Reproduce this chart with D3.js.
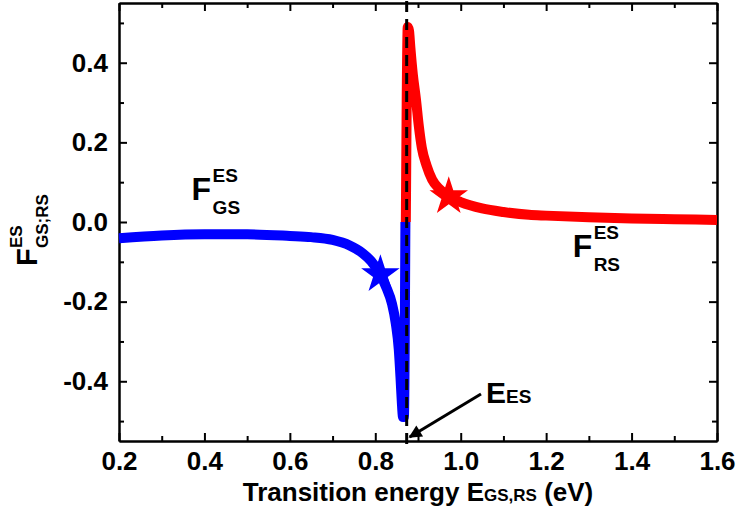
<!DOCTYPE html>
<html>
<head>
<meta charset="utf-8">
<script src="https://cdn.jsdelivr.net/npm/d3@7"></script>
<style>
  body { margin: 0; background: #fff; }
  svg { display: block; }
  svg text { font-family: "Liberation Sans", Arial, sans-serif; font-weight: bold; }
</style>
</head>
<body>
<svg id="chart" width="738" height="521"></svg>
<script>
// F_GS^ES (energy in eV, value)
const gsEnergy = [0.2, 0.3, 0.4, 0.5, 0.6, 0.65, 0.7, 0.74, 0.77, 0.79, 0.812, 0.826, 0.839, 0.848, 0.855, 0.859, 0.862, 0.865, 0.867, 0.869, 0.8705];
const gsValue = [-0.041, -0.034, -0.031, -0.031, -0.035, -0.038, -0.045, -0.059, -0.078, -0.098, -0.132, -0.165, -0.205, -0.255, -0.32, -0.39, -0.45, -0.49, -0.49, -0.30, 0.0];
// F_RS^ES
const rsEnergy = [0.8715, 0.8735, 0.876, 0.879, 0.882, 0.888, 0.895, 0.902, 0.909, 0.92, 0.933, 0.95, 0.972, 1.0, 1.05, 1.1, 1.16, 1.2, 1.3, 1.4, 1.5, 1.6];
const rsValue = [0.0, 0.30, 0.49, 0.48, 0.44, 0.37, 0.31, 0.24, 0.186, 0.142, 0.107, 0.083, 0.064, 0.05, 0.034, 0.025, 0.018, 0.016, 0.012, 0.009, 0.007, 0.005];
// star markers
const starEnergy = [0.812, 0.972];
const starValue = [-0.132, 0.064];
const starColor = ["#0000ff", "#ff0000"];
// E_ES resonance
const eES = 0.8735;
const xTicks = [0.2, 0.4, 0.6, 0.8, 1.0, 1.2, 1.4, 1.6];
const yTicks = [-0.4, -0.2, 0.0, 0.2, 0.4];

const svg = d3.select("#chart");
const x = d3.scaleLinear().domain([0.2, 1.6]).range([119, 717]);
const y = d3.scaleLinear().domain([-0.55, 0.55]).range([441, 3]);
const fmt = d => d.toFixed(1);
const xMinor = d3.range(0.3, 1.6, 0.2);
const yMinor = [-0.5, -0.3, -0.1, 0.1, 0.3, 0.5];

// axes, ticks inward
function styleAxis(g) {
  g.attr("font-family", null).attr("font-size", null);
  g.select(".domain").attr("stroke", "#000").attr("stroke-width", 2);
  g.selectAll(".tick line").attr("stroke", "#000").attr("stroke-width", 2);
  g.selectAll(".tick text").attr("fill", "#000").style("font-size", "26px");
}
function addAxis(axis, tx, ty) {
  svg.append("g").attr("transform", `translate(${tx},${ty})`).call(axis).call(styleAxis);
}
addAxis(d3.axisBottom(x).tickValues(xTicks).tickFormat(fmt).tickSize(-8).tickPadding(11).tickSizeOuter(0), 0, 441);
addAxis(d3.axisBottom(x).tickValues(xMinor).tickFormat("").tickSize(-5).tickSizeOuter(0), 0, 441);
addAxis(d3.axisTop(x).tickValues(xTicks).tickFormat("").tickSize(-8).tickSizeOuter(0), 0, 3);
addAxis(d3.axisTop(x).tickValues(xMinor).tickFormat("").tickSize(-5).tickSizeOuter(0), 0, 3);
addAxis(d3.axisLeft(y).tickValues(yTicks).tickFormat(fmt).tickSize(-8).tickPadding(11).tickSizeOuter(0), 119, 0);
addAxis(d3.axisLeft(y).tickValues(yMinor).tickFormat("").tickSize(-5).tickSizeOuter(0), 119, 0);
addAxis(d3.axisRight(y).tickValues(yTicks).tickFormat("").tickSize(-8).tickSizeOuter(0), 717, 0);
addAxis(d3.axisRight(y).tickValues(yMinor).tickFormat("").tickSize(-5).tickSizeOuter(0), 717, 0);

// curves
const line = d3.line().x(d => x(d[0])).y(d => y(d[1])).curve(d3.curveMonotoneX);
const gsData = d3.zip(gsEnergy, gsValue);
const rsData = d3.zip(rsEnergy, rsValue);
svg.append("path").datum(gsData)
  .attr("d", line)
  .attr("fill", "none").attr("stroke", "#0000ff").attr("stroke-width", 10)
  .attr("stroke-linejoin", "round");
svg.append("path").datum(rsData)
  .attr("d", line)
  .attr("fill", "none").attr("stroke", "#ff0000").attr("stroke-width", 10)
  .attr("stroke-linejoin", "round");

// dashed resonance line
svg.append("line")
  .attr("x1", x(eES)).attr("x2", x(eES))
  .attr("y1", y(0.55) - 2).attr("y2", y(-0.55) + 5)
  .attr("stroke", "#000").attr("stroke-width", 3)
  .attr("stroke-dasharray", "11,7");

// stars
svg.selectAll(".star").data(d3.range(starEnergy.length)).join("path")
  .attr("class", "star")
  .attr("transform", i => `translate(${x(starEnergy[i])},${y(starValue[i])})`)
  .attr("d", d3.symbol(d3.symbolStar, 460))
  .attr("fill", i => starColor[i]);

// curve labels
function fLabel(px, py, sup, sub) {
  svg.append("text").attr("x", px).attr("y", py).attr("fill", "#000")
    .style("font-size", "32px").text("F");
  svg.append("text").attr("x", px + 21).attr("y", py - 18).attr("fill", "#000")
    .style("font-size", "19px").text(sup);
  svg.append("text").attr("x", px + 21).attr("y", py + 14).attr("fill", "#000")
    .style("font-size", "19px").text(sub);
}
fLabel(x(0.37), y(0.055), "ES", "GS");
fLabel(x(1.262), y(-0.087), "ES", "RS");

// E_ES annotation
const ea = svg.append("text").attr("x", 486).attr("y", 403).attr("fill", "#000");
ea.append("tspan").text("E").style("font-size", "30px");
ea.append("tspan").text("ES").style("font-size", "19px");
svg.append("defs").append("marker")
  .attr("id", "arrow").attr("viewBox", "0 0 10 10").attr("refX", 9).attr("refY", 5)
  .attr("markerWidth", 17).attr("markerHeight", 13).attr("markerUnits", "userSpaceOnUse")
  .attr("orient", "auto")
  .append("path").attr("d", "M0,0L10,5L0,10z").attr("fill", "#000");
svg.append("line")
  .attr("x1", 481).attr("y1", 394)
  .attr("x2", x(eES) + 3).attr("y2", 437)
  .attr("stroke", "#000").attr("stroke-width", 3)
  .attr("marker-end", "url(#arrow)");

// x axis title
const xt = svg.append("text").attr("x", 418).attr("y", 501).attr("text-anchor", "middle").attr("fill", "#000")
  .style("font-size", "26px");
xt.append("tspan").text("Transition energy E");
xt.append("tspan").text("GS,RS").style("font-size", "17px");
xt.append("tspan").text(" (eV)");

// y axis title
const yt = svg.append("g").attr("transform", "translate(37,266) rotate(-90)");
yt.append("text").attr("x", 0).attr("y", 0).attr("fill", "#000").style("font-size", "29px").text("F");
yt.append("text").attr("x", 18).attr("y", -15).attr("fill", "#000").style("font-size", "17px").text("ES");
yt.append("text").attr("x", 18).attr("y", 11).attr("fill", "#000").style("font-size", "17px").text("GS;RS");
</script>
</body>
</html>
